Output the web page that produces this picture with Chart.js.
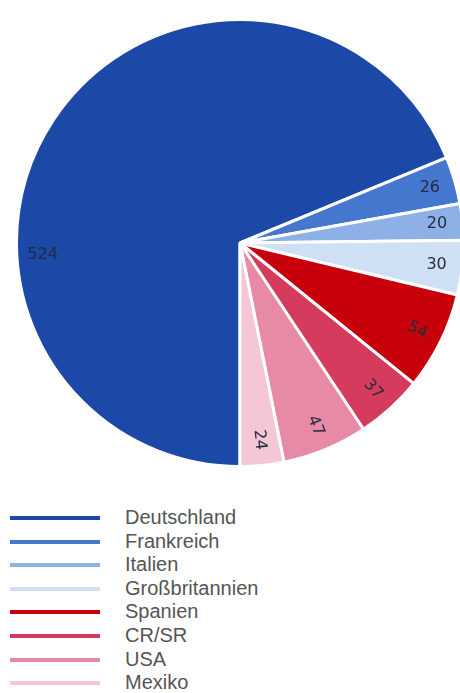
<!DOCTYPE html>
<html lang="de">
<head>
<meta charset="utf-8">
<title>Produktion nach Ländern</title>
<script src="https://cdn.jsdelivr.net/npm/chart.js@4/dist/chart.umd.min.js"></script>
<style>
  html, body { margin: 0; padding: 0; background: #fff; overflow: hidden; }
  #wrap { position: relative; width: 460px; height: 693px; overflow: hidden; }
  #pie { position: absolute; left: 0; top: 0; }
  #legend { position: absolute; left: 0; top: 506px; width: 460px; }
  .row { position: relative; height: 23.6px; }
  .row .swatch { position: absolute; left: 10px; top: 10px; width: 90px; height: 4px; }
  .row .name { position: absolute; left: 125px; top: 0; line-height: 23.6px;
               font: 20px "Liberation Sans", Arial, sans-serif; color: #555555; white-space: nowrap; }
</style>
</head>
<body>
<div id="wrap">
  <canvas id="pie" width="470" height="500"></canvas>
  <div id="legend"></div>
</div>
<script>
// Countries and their values
const countries = ["Deutschland", "Frankreich", "Italien", "Großbritannien", "Spanien", "CR/SR", "USA", "Mexiko"];
const values = [524, 26, 20, 30, 54, 37, 47, 24];
const colors = ["#1c48a8", "#4677cf", "#8db0e6", "#cfe0f4", "#c8000c", "#d43b5c", "#e68aa6", "#f4c6d6"];

// Where along each slice its value label sits (0 = slice start, 1 = slice end)
const labelSpot = [0.35, 0.5, 0.5, 0.5, 0.5, 0.5, 0.5, 0.5];

const sliceLabels = {
  id: "sliceLabels",
  afterDatasetsDraw(chart) {
    const ctx = chart.ctx;
    const meta = chart.getDatasetMeta(0);
    ctx.save();
    ctx.fillStyle = "#262a3e";
    ctx.font = "16px 'DejaVu Sans', sans-serif";
    ctx.textAlign = "center";
    ctx.textBaseline = "middle";
    meta.data.forEach((arc, i) => {
      const p = arc.getProps(["x", "y", "startAngle", "endAngle", "outerRadius"], true);
      const a = p.startAngle + (p.endAngle - p.startAngle) * labelSpot[i];
      const r = p.outerRadius * 0.885;
      const x = p.x + Math.cos(a) * r;
      const y = p.y + Math.sin(a) * r;
      // normalise to -PI..PI
      const n = Math.atan2(Math.sin(a), Math.cos(a));
      const deg = n * 180 / Math.PI;
      ctx.save();
      ctx.translate(x, y);
      if (deg > 15 && deg < 100) ctx.rotate(n);
      ctx.fillText(String(chart.data.datasets[0].data[i]), 0, 0);
      ctx.restore();
    });
    ctx.restore();
  }
};

new Chart(document.getElementById("pie"), {
  type: "pie",
  data: {
    labels: countries,
    datasets: [{
      data: values,
      backgroundColor: colors,
      borderColor: "#ffffff",
      borderWidth: 3
    }]
  },
  options: {
    responsive: false,
    animation: false,
    rotation: 180,
    layout: { padding: { left: 15, right: 5, top: 17, bottom: 31 } },
    plugins: {
      legend: { display: false },
      tooltip: { enabled: false }
    }
  },
  plugins: [sliceLabels]
});

// Legend: one line swatch plus name per country
const legend = document.getElementById("legend");
countries.forEach((name, i) => {
  const row = document.createElement("div");
  row.className = "row";
  const sw = document.createElement("div");
  sw.className = "swatch";
  sw.style.background = colors[i];
  const tx = document.createElement("div");
  tx.className = "name";
  tx.textContent = name;
  row.appendChild(sw);
  row.appendChild(tx);
  legend.appendChild(row);
});
</script>
</body>
</html>
